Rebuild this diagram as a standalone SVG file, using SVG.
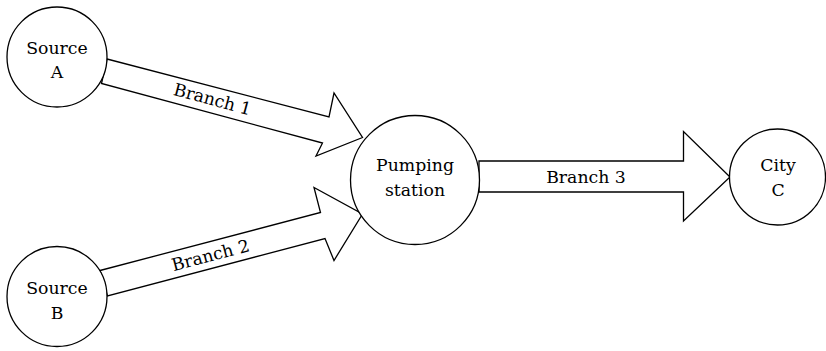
<svg xmlns="http://www.w3.org/2000/svg" width="826" height="351" viewBox="0 0 826 351">
  <style>
    .node { fill: #ffffff; stroke: #000000; stroke-width: 1.3; }
    .pipe { fill: #ffffff; stroke: #000000; stroke-width: 1.3; stroke-linejoin: miter; }
    text { font-family: "DejaVu Serif", "Liberation Serif", serif; font-size: 17.3px; fill: #000000; text-anchor: middle; }
  </style>
  <rect width="826" height="351" fill="#ffffff"/>

  <!-- connectors: block arrows -->
  <g id="connectors">
    <g id="branch1">
      <polygon class="pipe" points="107,59 329,117 334,93 362.5,137.5 316,156 322.5,143 101.5,83.5"/>
      <text transform="translate(211,105) rotate(15)">Branch 1</text>
    </g>
    <g id="branch2">
      <polygon class="pipe" points="100,270.5 320.5,212.5 314,187.5 362.5,214 334,260.5 325,238.5 107.5,296"/>
      <text transform="translate(212,261) rotate(-14.8)">Branch 2</text>
    </g>
    <g id="branch3">
      <polygon class="pipe" points="479,161 683.5,161 683.5,131.5 730,177 683.5,221 683.5,192 479,192"/>
      <text x="586" y="182.5">Branch 3</text>
    </g>
  </g>

  <!-- nodes -->
  <g id="source-a">
    <circle class="node" cx="57" cy="57" r="50"/>
    <text x="57" y="53.5">Source</text>
    <text x="57" y="78">A</text>
  </g>
  <g id="source-b">
    <circle class="node" cx="57" cy="296.5" r="50"/>
    <text x="57" y="293.5">Source</text>
    <text x="57" y="318.5">B</text>
  </g>
  <g id="pumping-station">
    <circle class="node" cx="415" cy="180" r="64.5"/>
    <text x="415" y="170.5">Pumping</text>
    <text x="415" y="196">station</text>
  </g>
  <g id="city-c">
    <circle class="node" cx="777.5" cy="177" r="48"/>
    <text x="778" y="171">City</text>
    <text x="778" y="196">C</text>
  </g>
</svg>
